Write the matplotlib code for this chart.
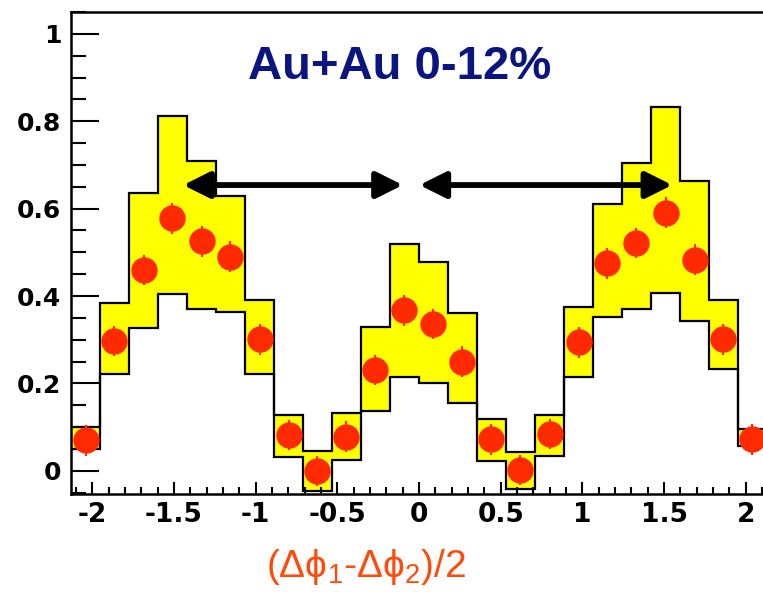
import numpy as np
import matplotlib
matplotlib.use("Agg")
import matplotlib.pyplot as plt
from matplotlib.ticker import MultipleLocator

plt.rcParams['mathtext.fontset'] = 'custom'
plt.rcParams['mathtext.rm'] = 'Liberation Sans'
plt.rcParams['mathtext.it'] = 'Liberation Sans'

# 24 bins over the half-difference of the two angles
edges = np.linspace(-2.13, 2.13, 25)

band_hi = [0.101, 0.385, 0.635, 0.813, 0.709, 0.628, 0.390, 0.128, 0.046, 0.132, 0.329, 0.519,
           0.479, 0.362, 0.118, 0.042, 0.127, 0.374, 0.610, 0.704, 0.832, 0.664, 0.390, 0.095]
band_lo = [0.050, 0.222, 0.328, 0.404, 0.371, 0.363, 0.222, 0.031, -0.047, 0.025, 0.137, 0.214,
           0.200, 0.155, 0.022, -0.042, 0.034, 0.214, 0.351, 0.370, 0.408, 0.342, 0.233, 0.056]
yields = [0.070, 0.297, 0.460, 0.578, 0.525, 0.490, 0.301, 0.082, 0.000, 0.078, 0.231, 0.367,
          0.336, 0.250, 0.072, 0.002, 0.084, 0.294, 0.475, 0.521, 0.591, 0.483, 0.301, 0.072]
yield_err = 0.035

arrow_y = 0.654
left_arrow = (-1.443, -0.099)
right_arrow = (0.003, 1.55)

centers = 0.5 * (edges[:-1] + edges[1:])

fig = plt.figure(figsize=(7.63, 5.92), dpi=100)
ax = fig.add_axes([71 / 763, 98 / 592, 696 / 763, 482 / 592])

# systematic band: yellow fill with black step outlines
ax.stairs(band_hi, edges, baseline=band_lo, fill=True, color='#ffff00', zorder=1)
ax.stairs(band_hi, edges, baseline=None, color='black', lw=1.6, zorder=2)
ax.stairs(band_lo, edges, baseline=None, color='black', lw=1.6, zorder=2)

ax.errorbar(centers, yields, yerr=yield_err, fmt='o', color='#ff2a00', ms=19,
            mec='none', elinewidth=1.5, capsize=0, zorder=3)

for x0, x1 in (left_arrow, right_arrow):
    ax.annotate('', xy=(x1, arrow_y), xytext=(x0, arrow_y),
                arrowprops=dict(arrowstyle='<|-|>,head_length=0.8,head_width=0.4',
                                mutation_scale=20, lw=4.2, color='black',
                                shrinkA=0, shrinkB=0), zorder=4)

ax.text(-0.12, 0.925, 'Au+Au 0-12%', ha='center', va='center', fontsize=34,
        fontweight='bold', color='#0a1580', family='Liberation Sans')

ax.set_xlim(edges[0], edges[-1])
ax.set_ylim(-0.053, 1.05)

ax.xaxis.set_major_locator(MultipleLocator(0.5))
ax.xaxis.set_minor_locator(MultipleLocator(0.1))
ax.yaxis.set_major_locator(MultipleLocator(0.2))
ax.yaxis.set_minor_locator(MultipleLocator(0.05))
ax.set_xticks([-2, -1.5, -1, -0.5, 0, 0.5, 1, 1.5, 2])
ax.set_xticklabels(['-2', '-1.5', '-1', '-0.5', '0', '0.5', '1', '1.5', '2'])
ax.set_yticks([0, 0.2, 0.4, 0.6, 0.8, 1])
ax.set_yticklabels(['0', '0.2', '0.4', '0.6', '0.8', '1'])

ax.tick_params(axis='x', which='major', direction='in', length=9, width=1.5, pad=6)
ax.tick_params(axis='x', which='minor', direction='in', length=5, width=1.5)
ax.tick_params(axis='y', which='major', direction='in', length=20, width=1.5, pad=7)
ax.tick_params(axis='y', which='minor', direction='in', length=11, width=1.5)
for lab in ax.get_xticklabels():
    lab.set_fontsize(19)
    lab.set_fontweight('bold')
for lab in ax.get_yticklabels():
    lab.set_fontsize(18)
    lab.set_fontweight('bold')

for side in ('left', 'bottom', 'top', 'right'):
    ax.spines[side].set_linewidth(1.8)

fig.text(366 / 763, 1 - 567 / 592, '(Δϕ$_1$-Δϕ$_2$)/2', ha='center', va='center',
         fontsize=28, color='#ff4a0a', family=['Liberation Sans', 'DejaVu Sans'])

fig.savefig('out.png', dpi=100)
